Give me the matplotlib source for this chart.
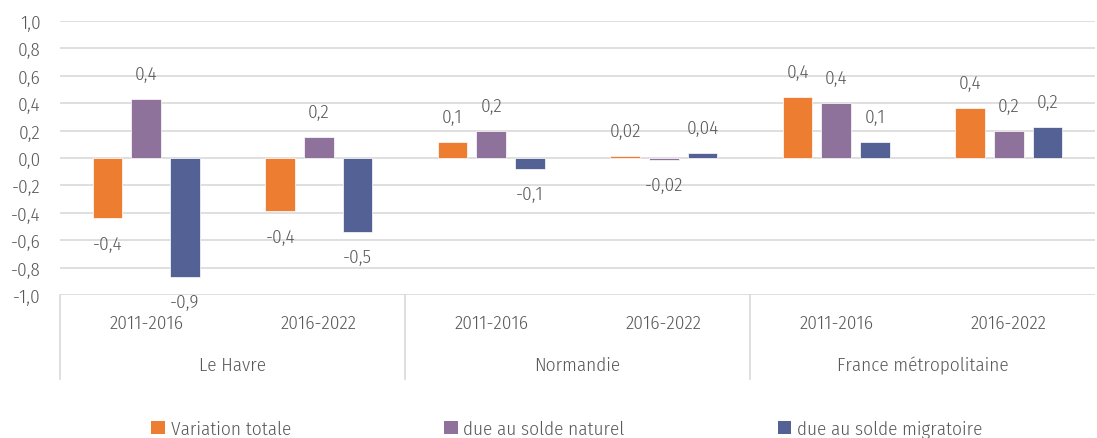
import matplotlib
matplotlib.use("Agg")
import matplotlib.pyplot as plt
from matplotlib.patches import Patch
from matplotlib.lines import Line2D
import numpy as np

plt.rcParams['font.family'] = ['Fira Sans Condensed', 'DejaVu Sans']
plt.rcParams['font.stretch'] = 'condensed'
plt.rcParams['font.weight'] = 300

groups = ["Le Havre", "Normandie", "France métropolitaine"]
periods = ["2011-2016", "2016-2022"]
series_names = ["Variation totale", "due au solde naturel", "due au solde migratoire"]
colors = ["#ED7D31", "#8E729C", "#546194"]

variation_totale = [-0.44, -0.39, 0.12, 0.015, 0.445, 0.365]
solde_naturel = [0.43, 0.155, 0.20, -0.015, 0.40, 0.20]
solde_migratoire = [-0.87, -0.54, -0.08, 0.036, 0.12, 0.225]
labels_totale = ["-0,4", "-0,4", "0,1", "0,02", "0,4", "0,4"]
labels_naturel = ["0,4", "0,2", "0,2", "-0,02", "0,4", "0,2"]
labels_migratoire = ["-0,9", "-0,5", "-0,1", "0,04", "0,1", "0,2"]

yticks = [-1.0, -0.8, -0.6, -0.4, -0.2, 0.0, 0.2, 0.4, 0.6, 0.8, 1.0]

W, H = 1097, 439
fig = plt.figure(figsize=(W / 100, H / 100), dpi=100)
ax = fig.add_axes([60 / W, (H - 296) / H, (1095 - 60) / W, (296 - 22) / H])

txt = "#595959"
grid = "#D9D9D9"
fs = 13.8

x = np.arange(len(variation_totale))
bw = 0.172
step = 0.224
all_series = [variation_totale, solde_naturel, solde_migratoire]
all_labels = [labels_totale, labels_naturel, labels_migratoire]
for i, (vals, labs, c) in enumerate(zip(all_series, all_labels, colors)):
    xs = x + (i - 1) * step
    ax.bar(xs, vals, width=bw, color=c, zorder=3, edgecolor="white", linewidth=0.5)
    for xx, v, l in zip(xs, vals, labs):
        off = 18 if v >= 0 else -18
        ax.annotate(l, (xx, v), xytext=(0, off), textcoords="offset points",
                    ha="center", va="center", fontsize=fs, color=txt, zorder=4)

ax.set_xlim(-0.5, 5.5)
ax.set_ylim(-1.0, 1.0)
ax.set_yticks(yticks)
ax.set_yticklabels([f"{t:.1f}".replace(".", ",") for t in yticks], fontsize=fs, color=txt)
ax.tick_params(axis="y", length=0, pad=14)
ax.tick_params(axis="x", length=0)
ax.set_xticks([])
for s in ax.spines.values():
    s.set_visible(False)
ax.grid(axis="y", color=grid, linewidth=1.2, zorder=0)

trans = ax.get_xaxis_transform()
for xi, p in zip(x, periods * 3):
    ax.text(xi, -0.10, p, transform=trans, ha="center", va="center", fontsize=fs, color=txt)
for gi, g in enumerate(groups):
    ax.text(2 * gi + 0.5, -0.255, g, transform=trans, ha="center", va="center", fontsize=fs, color=txt)
for xb in [-0.5, 1.5, 3.5]:
    ax.add_line(Line2D([xb, xb], [0, -0.307], transform=trans, color=grid, linewidth=1.2, clip_on=False))

handles = [Patch(facecolor=c, edgecolor="none") for c in colors]
fig.legend(handles, series_names, loc="center", bbox_to_anchor=(567 / W, (H - 430) / H),
           ncol=3, frameon=False, fontsize=fs, labelcolor=txt, handlelength=0.7,
           handleheight=0.7, handletextpad=0.3, columnspacing=8.0)

fig.savefig("out.png", dpi=100)
